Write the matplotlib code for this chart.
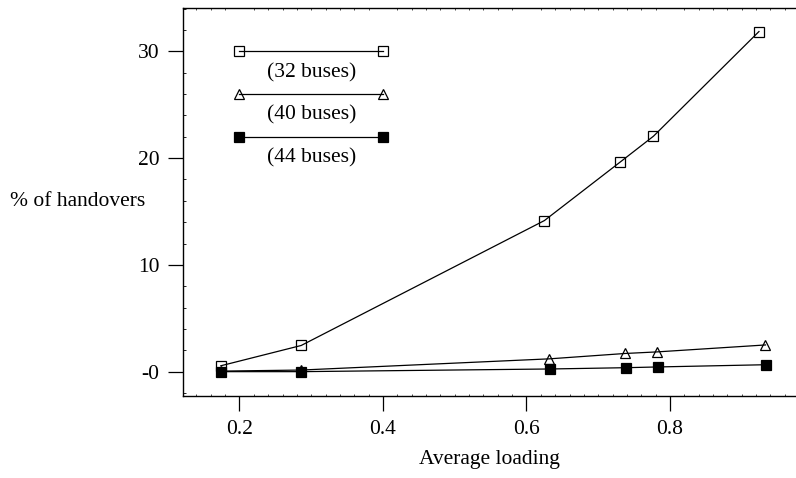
import numpy as np
import matplotlib
matplotlib.use('Agg')
import matplotlib.pyplot as plt
from matplotlib.ticker import MultipleLocator, FixedLocator

plt.rcParams['font.family'] = ['Liberation Serif', 'DejaVu Serif']

# data
load_32 = [0.174, 0.286, 0.625, 0.731, 0.777, 0.924]
pct_32 = [0.55, 2.45, 14.15, 19.65, 22.05, 31.85]
load_40 = [0.174, 0.286, 0.632, 0.737, 0.782, 0.933]
pct_40 = [0.05, 0.15, 1.2, 1.7, 1.85, 2.5]
load_44 = [0.174, 0.286, 0.633, 0.738, 0.783, 0.934]
pct_44 = [0.0, 0.0, 0.25, 0.37, 0.44, 0.65]
labels = ['(32 buses)', '(40 buses)', '(44 buses)']
y_ticks = [0, 10, 20, 30]
y_ticklabels = ['-0', '10', '20', '30']
x_ticks = [0.2, 0.4, 0.6, 0.8]

fs = 15.5
fig = plt.figure(figsize=(7.96, 4.78), dpi=100)
ax = fig.add_axes([183 / 796, 1 - 396 / 478, 1 - 183 / 796, (396 - 7.5) / 478])

styles = [dict(marker='s', mfc='none', ms=7.5),
          dict(marker='^', mfc='none', ms=7),
          dict(marker='s', mfc='black', ms=6.5)]
series = [(load_32, pct_32), (load_40, pct_40), (load_44, pct_44)]
for (xs, ys), st in zip(series, styles):
    ax.plot(xs, ys, color='black', lw=0.9, mec='black', mew=0.9, **st)

# hand-made legend: sample line with markers at both ends, label below
leg_x = [0.2, 0.4]
leg_y = [30, 26, 22]
for yy, lab, st in zip(leg_y, labels, styles):
    ax.plot(leg_x, [yy, yy], color='black', lw=0.9, mec='black', mew=0.9, **st)
    ax.text(0.3, yy - 2.0, lab, ha='center', va='center', fontsize=fs)

ax.set_xlim(0.1213, 0.9756)
ax.set_ylim(-2.28, 34.1)

ax.xaxis.set_major_locator(FixedLocator(x_ticks))
ax.xaxis.set_minor_locator(MultipleLocator(0.02))
ax.set_yticks(y_ticks)
ax.set_yticklabels(y_ticklabels)
ax.yaxis.set_minor_locator(MultipleLocator(2))

ax.tick_params(which='major', direction='out', length=11, width=0.9,
               labelsize=fs, pad=6)
ax.tick_params(axis='y', which='minor', direction='in', length=2, width=0.6)
ax.tick_params(axis='x', which='minor', direction='in', length=1.2, width=0.5,
               top=True)
ax.tick_params(axis='x', which='major', top=False)
ax.spines['right'].set_visible(False)
for s in ['left', 'bottom', 'top']:
    ax.spines[s].set_linewidth(1.0)

ax.set_xlabel('Average loading', fontsize=fs, labelpad=8)
ax.set_ylabel('% of handovers', fontsize=fs, rotation=0, ha='right', va='center')
ax.yaxis.set_label_coords(-0.062, 0.5)

fig.savefig('out.png', dpi=100)
